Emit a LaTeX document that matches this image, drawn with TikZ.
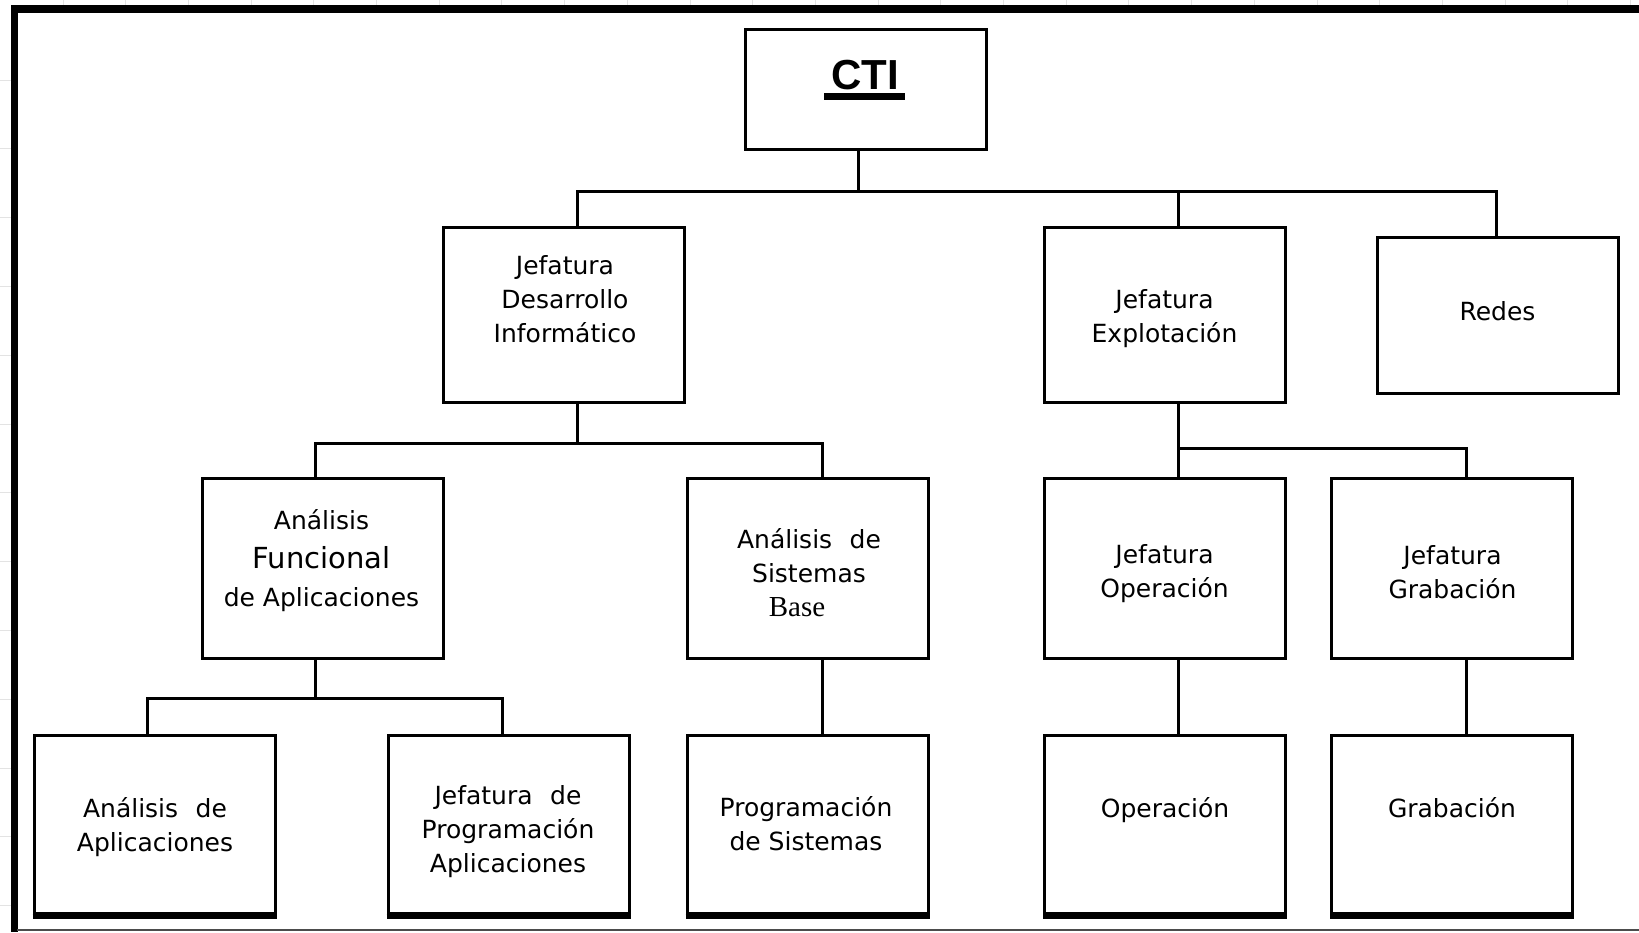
\documentclass[tikz,border=0pt]{standalone}
\usepackage{fontspec}
\setmainfont{DejaVu Sans}
\newfontfamily\ctifont{Liberation Sans}
\newfontfamily\serifb{Liberation Serif}
\begin{document}
\begin{tikzpicture}[x=0.5pt,y=-0.5pt,
  box/.style={draw, line width=1.5pt, inner sep=0pt, minimum width=120.5pt, minimum height=#1},
  txt/.style={align=center, inner sep=0pt, font=\fontsize{12.5pt}{17pt}\selectfont},
  conn/.style={line width=1.5pt},
  grid/.style={gray!22, line width=0.5pt}]
\useasboundingbox (0,0) rectangle (1639,932);
\fill[white] (0,0) rectangle (1639,932);
% faint spreadsheet grid in the margins
\foreach \i in {0,...,25} \draw[grid] ({63+62.7*\i},0) -- ({63+62.7*\i},5);
\foreach \j in {0,...,12} \draw[grid] (0,{80+68.8*\j}) -- (11,{80+68.8*\j});
% frame
\draw[line width=4pt] (11,9.2) -- (1639,9.2);
\draw[line width=3.75pt] (14.5,5) -- (14.5,932);
\draw[line width=1pt, black!70] (17,930) -- (1639,930);

% boxes
\node[box=60pt]   (cti)   at (866,89.5) {};
\node[box=87.5pt] (dev)   at (564,314.6) {};
\node[box=87.5pt] (exp)   at (1165,314.6) {};
\node[box=77.7pt] (redes) at (1498,315.5) {};
\node[box=90.2pt] (fun)   at (323,568.7) {};
\node[box=90.2pt] (sis)   at (807.5,568.7) {};
\node[box=90.2pt] (ope)   at (1165,568.7) {};
\node[box=90.2pt] (gra)   at (1452,568.7) {};
\node[box=89pt]   (aa)    at (154.5,824.5) {};
\node[box=89pt]   (jp)    at (508.5,824.5) {};
\node[box=89pt]   (ps)    at (807.5,824.5) {};
\node[box=89pt]   (op)    at (1165,824.5) {};
\node[box=89pt]   (gb)    at (1452,824.5) {};
\foreach \n in {aa,jp,ps,op,gb}
  \draw[line width=2.5pt] ([yshift=-0.5pt]\n.south west) -- ([yshift=-0.5pt]\n.south east);

% texts
\node[anchor=base, inner sep=0pt, font=\ctifont\bfseries\fontsize{21pt}{25pt}\selectfont] (ctit) at (865,89) {CTI};
\fill ([xshift=-3.5pt, yshift=-2pt]ctit.base west) rectangle ([xshift=3pt, yshift=-5.5pt]ctit.base east);
\node[txt] (devt) at (565,301.2) {\strut Jefatura\\\strut Desarrollo\\\strut Informático};
\node[txt] (expt) at (1164.5,318.5) {\strut Jefatura\\\strut Explotación};
\node[txt] (redest) at (1497.5,314) {\strut Redes};
\node[txt, font=\fontsize{12.5pt}{19.2pt}\selectfont] (funt) at (321.5,560.7)
  {\strut Análisis\\{\fontsize{14.5pt}{19.2pt}\selectfont\strut Funcional}\\\strut de Aplicaciones};
\node[txt] (sist) at (809,575.5)
  {\strut Análisis\hspace{0.7em}de\\\strut Sistemas\\{\serifb\fontsize{14.5pt}{17pt}\selectfont\strut Base}\hspace*{12pt}};
\node[txt] (opet) at (1164.5,573.7) {\strut Jefatura\\\strut Operación};
\node[txt] (grat) at (1452.5,574.5) {\strut Jefatura\\\strut Grabación};
\node[txt] (aat) at (155,828) {\strut Análisis\hspace{0.7em}de\\\strut Aplicaciones};
\node[txt] (jpt) at (508,831.2) {\strut Jefatura\hspace{0.7em}de\\\strut Programación\\\strut Aplicaciones};
\node[txt] (pst) at (806,827) {\strut Programación\\\strut de Sistemas};
\node[txt] (opt) at (1165,810.4) {\strut Operación};
\node[txt] (gbt) at (1452,810.4) {\strut Grabación};

% connectors
\coordinate (t0) at (858,191);
\coordinate (tL) at (577,191);
\coordinate (tM) at (1178,191);
\coordinate (tR) at (1496,191);
\draw[conn] (cti.south -| t0) -- (t0);
\draw[conn] (tL |- dev.north) -- (tL) -- (tR) -- (tR |- redes.north);
\draw[conn] (tM) -- (tM |- exp.north);

\coordinate (d0) at (577,443);
\coordinate (dL) at (315,443);
\coordinate (dR) at (822,443);
\draw[conn] (dev.south -| d0) -- (d0);
\draw[conn] (dL |- fun.north) -- (dL) -- (dR) -- (dR |- sis.north);

\coordinate (f0) at (315,698);
\coordinate (fL) at (147,698);
\coordinate (fR) at (502,698);
\draw[conn] (fun.south -| f0) -- (f0);
\draw[conn] (fL |- aa.north) -- (fL) -- (fR) -- (fR |- jp.north);

\draw[conn] (sis.south -| dR) -- (dR |- ps.north);

\coordinate (e0) at (1178,448);
\coordinate (eR) at (1466,448);
\draw[conn] (exp.south -| e0) -- (e0 |- ope.north);
\draw[conn] (e0) -- (eR) -- (eR |- gra.north);
\draw[conn] (ope.south -| e0) -- (e0 |- op.north);
\draw[conn] (gra.south -| eR) -- (eR |- gb.north);
\end{tikzpicture}
\end{document}
